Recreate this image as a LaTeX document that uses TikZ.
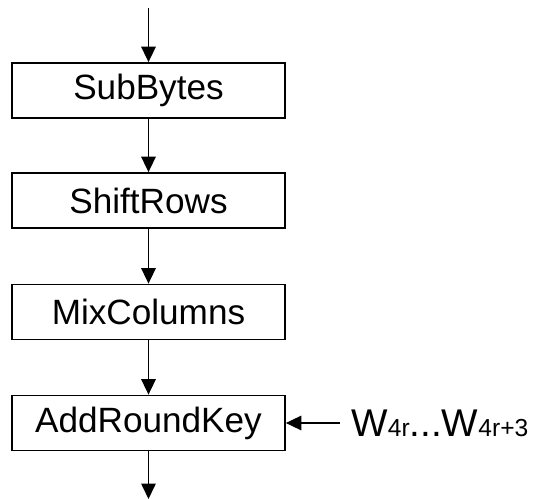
\documentclass[tikz,border=0pt]{standalone}
\usepackage{fontspec}
\setmainfont{Liberation Sans}
\usetikzlibrary{positioning, arrows.meta}

\begin{document}
\begin{tikzpicture}[
    x=0.02cm, y=-0.02cm,
    stage/.style={draw, line width=1pt, minimum width=5.46cm, minimum height=1.1cm,
                  inner sep=0pt, font=\fontsize{20}{24}\selectfont, align=center},
    arr/.style={-{Triangle[width=0.29cm, length=0.31cm]}, line width=0.9pt},
    keylabel/.style={font=\fontsize{22}{26}\selectfont, inner sep=0pt, anchor=west},
]
\useasboundingbox (0,0) rectangle (533,499);
\node[stage] (sub) at (148.5, 90.5) {SubBytes};
\node[stage] (shift) at (148.5, 200.5) {ShiftRows};
\node[stage] (mix) at (148.5, 312) {MixColumns};
\node[stage] (ark) at (148.5, 423) {AddRoundKey};
\coordinate (entry) at (148.5, 8);
\coordinate (exit) at (148.5, 499);
\coordinate (key) at (340, 423);
\node[keylabel] (words) at (351, 423)
  {W{\fontsize{14}{16}\selectfont 4r}...W{\fontsize{14}{16}\selectfont 4r+3}};
\draw[arr] (entry) -- (sub.north);
\draw[arr] (sub.south) -- (shift.north);
\draw[arr] (shift.south) -- (mix.north);
\draw[arr] (mix.south) -- (ark.north);
\draw[arr] (ark.south) -- (exit);
\draw[arr] (key) -- (ark.east);
\end{tikzpicture}
\end{document}
